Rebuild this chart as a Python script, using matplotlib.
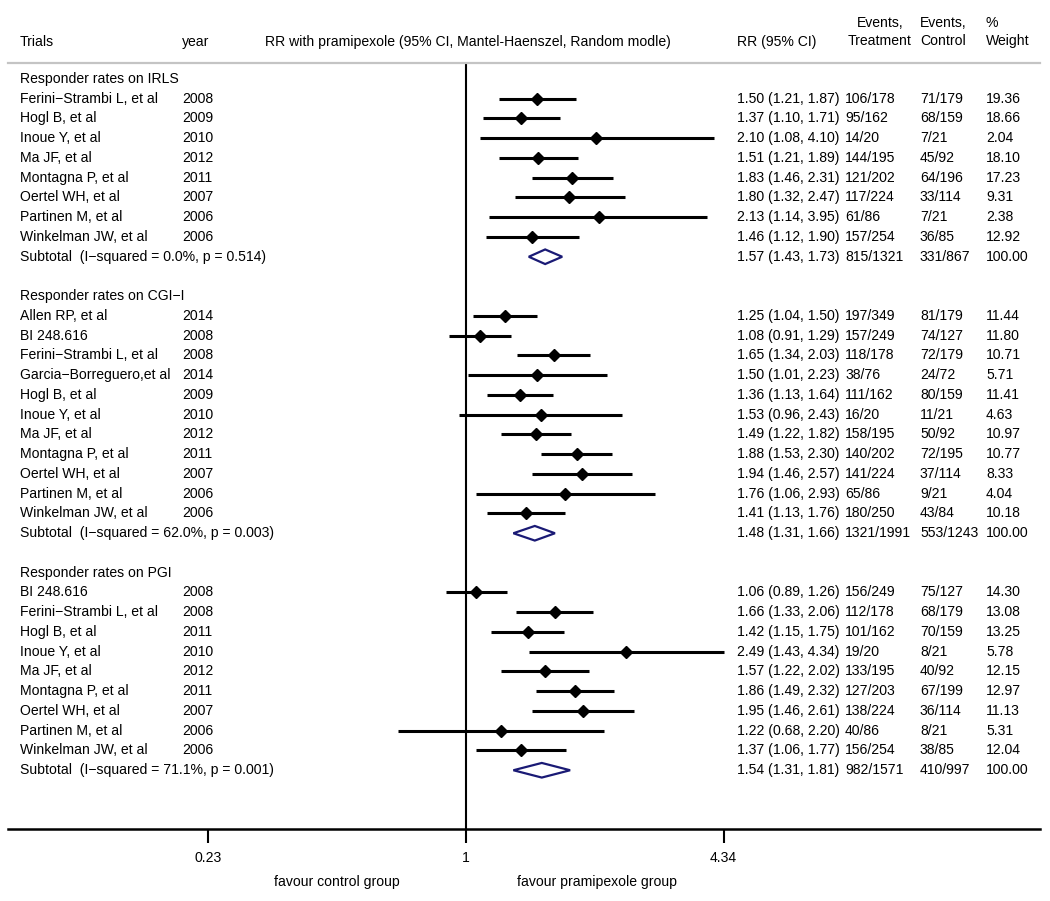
import numpy as np
import matplotlib
matplotlib.use("Agg")
import matplotlib.pyplot as plt
from matplotlib.transforms import blended_transform_factory
from matplotlib.patches import Polygon

plt.rcParams['font.family'] = ['Liberation Sans', 'DejaVu Sans']
FS = 10.1

# ---- data ----
irls_names = ["Ferini\u2212Strambi L, et al", "Hogl B, et al", "Inoue Y, et al", "Ma JF, et al",
              "Montagna P, et al", "Oertel WH, et al", "Partinen M, et al", "Winkelman JW, et al"]
irls_years = [2008, 2009, 2010, 2012, 2011, 2007, 2006, 2006]
irls_rr = [1.50, 1.37, 2.10, 1.51, 1.83, 1.80, 2.13, 1.46]
irls_lo = [1.21, 1.10, 1.08, 1.21, 1.46, 1.32, 1.14, 1.12]
irls_hi = [1.87, 1.71, 4.10, 1.89, 2.31, 2.47, 3.95, 1.90]
irls_treat = ["106/178", "95/162", "14/20", "144/195", "121/202", "117/224", "61/86", "157/254"]
irls_ctrl = ["71/179", "68/159", "7/21", "45/92", "64/196", "33/114", "7/21", "36/85"]
irls_weight = [19.36, 18.66, 2.04, 18.10, 17.23, 9.31, 2.38, 12.92]
irls_sub = (1.57, 1.43, 1.73, "815/1321", "331/867", 100.00, "Subtotal  (I\u2212squared = 0.0%, p = 0.514)")

cgi_names = ["Allen RP, et al", "BI 248.616", "Ferini\u2212Strambi L, et al", "Garcia\u2212Borreguero,et al",
             "Hogl B, et al", "Inoue Y, et al", "Ma JF, et al", "Montagna P, et al",
             "Oertel WH, et al", "Partinen M, et al", "Winkelman JW, et al"]
cgi_years = [2014, 2008, 2008, 2014, 2009, 2010, 2012, 2011, 2007, 2006, 2006]
cgi_rr = [1.25, 1.08, 1.65, 1.50, 1.36, 1.53, 1.49, 1.88, 1.94, 1.76, 1.41]
cgi_lo = [1.04, 0.91, 1.34, 1.01, 1.13, 0.96, 1.22, 1.53, 1.46, 1.06, 1.13]
cgi_hi = [1.50, 1.29, 2.03, 2.23, 1.64, 2.43, 1.82, 2.30, 2.57, 2.93, 1.76]
cgi_treat = ["197/349", "157/249", "118/178", "38/76", "111/162", "16/20", "158/195", "140/202",
             "141/224", "65/86", "180/250"]
cgi_ctrl = ["81/179", "74/127", "72/179", "24/72", "80/159", "11/21", "50/92", "72/195",
            "37/114", "9/21", "43/84"]
cgi_weight = [11.44, 11.80, 10.71, 5.71, 11.41, 4.63, 10.97, 10.77, 8.33, 4.04, 10.18]
cgi_sub = (1.48, 1.31, 1.66, "1321/1991", "553/1243", 100.00, "Subtotal  (I\u2212squared = 62.0%, p = 0.003)")

pgi_names = ["BI 248.616", "Ferini\u2212Strambi L, et al", "Hogl B, et al", "Inoue Y, et al", "Ma JF, et al",
             "Montagna P, et al", "Oertel WH, et al", "Partinen M, et al", "Winkelman JW, et al"]
pgi_years = [2008, 2008, 2011, 2010, 2012, 2011, 2007, 2006, 2006]
pgi_rr = [1.06, 1.66, 1.42, 2.49, 1.57, 1.86, 1.95, 1.22, 1.37]
pgi_lo = [0.89, 1.33, 1.15, 1.43, 1.22, 1.49, 1.46, 0.68, 1.06]
pgi_hi = [1.26, 2.06, 1.75, 4.34, 2.02, 2.32, 2.61, 2.20, 1.77]
pgi_treat = ["156/249", "112/178", "101/162", "19/20", "133/195", "127/203", "138/224", "40/86", "156/254"]
pgi_ctrl = ["75/127", "68/179", "70/159", "8/21", "40/92", "67/199", "36/114", "8/21", "38/85"]
pgi_weight = [14.30, 13.08, 13.25, 5.78, 12.15, 12.97, 11.13, 5.31, 12.04]
pgi_sub = (1.54, 1.31, 1.81, "982/1571", "410/997", 100.00, "Subtotal  (I\u2212squared = 71.1%, p = 0.001)")

groups = [
    ("Responder rates on IRLS", irls_names, irls_years, irls_rr, irls_lo, irls_hi, irls_treat, irls_ctrl, irls_weight, irls_sub),
    ("Responder rates on CGI\u2212I", cgi_names, cgi_years, cgi_rr, cgi_lo, cgi_hi, cgi_treat, cgi_ctrl, cgi_weight, cgi_sub),
    ("Responder rates on PGI", pgi_names, pgi_years, pgi_rr, pgi_lo, pgi_hi, pgi_treat, pgi_ctrl, pgi_weight, pgi_sub),
]
ticks = [0.23, 1, 4.34]

# ---- layout (pixels of a 1050x901 image) ----
W, H = 1050, 901
fig = plt.figure(figsize=(W / 100, H / 100), dpi=100)
ax_l, ax_r, ax_t, ax_b = 8, 1040, 63, 829
ax = fig.add_axes([ax_l / W, 1 - ax_b / H, (ax_r - ax_l) / W, (ax_b - ax_t) / H])
ax.set_xscale('log')
px_one, px_per_ln = 466, 175.5
ax.set_xlim(np.exp((ax_l - px_one) / px_per_ln), np.exp((ax_r - px_one) / px_per_ln))
row0, row_h = 79.0, 19.75
ax.set_ylim((ax_b - row0) / row_h, (ax_t - row0) / row_h)

for s in ['left', 'right']:
    ax.spines[s].set_visible(False)
ax.spines['top'].set_color('#c4c4c4')
ax.spines['top'].set_linewidth(1.6)
ax.spines['bottom'].set_linewidth(1.8)
ax.set_yticks([])
ax.set_xticks(ticks)
ax.set_xticklabels(["0.23", "1", "4.34"], fontsize=FS)
ax.xaxis.set_minor_locator(matplotlib.ticker.NullLocator())
ax.tick_params(axis='x', length=10, width=1.5, pad=6)
ax.axvline(1, color='black', lw=1.5)

tr = blended_transform_factory(fig.transFigure, ax.transData)
col = dict(name=20, year=182, rr=737, treat=845, ctrl=920, weight=986)


def put(key, y, s):
    ax.text(col[key] / W, y, s, transform=tr, fontsize=FS, va='center', ha='left', clip_on=False)


def ci_text(r, lo, hi):
    return f"{r:.2f} ({lo:.2f}, {hi:.2f})"


row = 0
for title, names, years, rr, lo, hi, treat, ctrl, weight, sub in groups:
    put('name', row, title)
    row += 1
    for i in range(len(names)):
        ax.plot([lo[i], hi[i]], [row, row], color='black', lw=2.2, solid_capstyle='butt')
        ax.plot(rr[i], row, marker='D', color='black', markersize=6.5)
        put('name', row, names[i])
        put('year', row, str(years[i]))
        put('rr', row, ci_text(rr[i], lo[i], hi[i]))
        put('treat', row, treat[i])
        put('ctrl', row, ctrl[i])
        put('weight', row, f"{weight[i]:.2f}")
        row += 1
    est, slo, shi, st, sc, sw, label = sub
    dh = 0.37
    ax.add_patch(Polygon([[slo, row], [est, row - dh], [shi, row], [est, row + dh]],
                         closed=True, fill=False, edgecolor='#1a1a75', lw=1.6))
    put('name', row, label)
    put('rr', row, ci_text(est, slo, shi))
    put('treat', row, st)
    put('ctrl', row, sc)
    put('weight', row, f"{sw:.2f}")
    row += 2

# ---- header ----
hy = 1 - 42 / H
fig.text(20 / W, hy, "Trials", fontsize=FS, va='center', ha='left')
fig.text(182 / W, hy, "year", fontsize=FS, va='center', ha='left')
fig.text(468 / W, hy, "RR with pramipexole (95% CI, Mantel-Haenszel, Random modle)",
         fontsize=FS, va='center', ha='center')
fig.text(737 / W, hy, "RR (95% CI)", fontsize=FS, va='center', ha='left')
fig.text(880 / W, 1 - 32 / H, "Events,\nTreatment", fontsize=FS, va='center', ha='center',
         multialignment='center', linespacing=1.45)
fig.text(920 / W, 1 - 32 / H, "Events,\nControl", fontsize=FS, va='center', ha='left',
         multialignment='left', linespacing=1.45)
fig.text(986 / W, 1 - 32 / H, "%\nWeight", fontsize=FS, va='center', ha='left',
         multialignment='left', linespacing=1.45)

# ---- footer ----
fig.text(337 / W, 1 - 882 / H, "favour control group", fontsize=FS, va='center', ha='center')
fig.text(597 / W, 1 - 882 / H, "favour pramipexole group", fontsize=FS, va='center', ha='center')

fig.savefig("out.png", dpi=100)
